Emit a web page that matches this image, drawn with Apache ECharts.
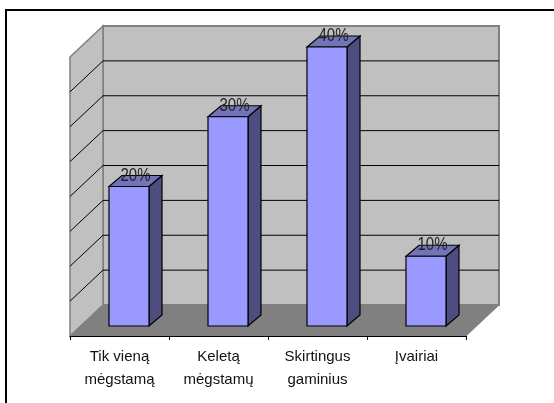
<!DOCTYPE html>
<html><head><meta charset="utf-8">
<style>html,body{margin:0;padding:0;background:#fff}#c{width:554px;height:403px}</style>
<script src="https://cdn.jsdelivr.net/npm/echarts@6/dist/echarts.min.js"></script>
</head><body><div id="c"></div>
<script>
const categories = ['Tik vieną\nmėgstamą', 'Keletą\nmėgstamų', 'Skirtingus\ngaminius', 'Įvairiai'];
const values = [20, 30, 40, 10];
const ticks = [0, 5, 10, 15, 20, 25, 30, 35, 40];
const axisMax = 40;

const wallDx = 33, wallDy = -31;      // depth of the floor
const barDx = 9.5, barDy = -10;       // bar offset from front plane
const depthDx = 13, depthDy = -11;    // depth of a bar
const barW = 40;

function poly(points, fill, stroke, lw) {
  return { type: 'polygon', shape: { points }, silent: true,
    style: { fill, stroke: stroke || 'none', lineWidth: lw === undefined ? 1 : lw } };
}
const wallSeries = {
  type: 'custom', coordinateSystem: 'cartesian2d', data: [0], silent: true, z: 1,
  renderItem(params, api) {
    const p0 = api.coord([0, 0]).slice();
    const w = api.size([1, 0])[0] * categories.length;
    const pT = api.coord([0, axisMax]);
    const x0 = params.coordSys.x, y0 = p0[1], yT = pT[1], x1 = x0 + w;
    const children = [
      poly([[x0 + wallDx, yT + wallDy], [x1 + wallDx, yT + wallDy], [x1 + wallDx, y0 + wallDy], [x0 + wallDx, y0 + wallDy]], '#c0c0c0', '#808080', 2),
      poly([[x0, yT], [x0 + wallDx, yT + wallDy], [x0 + wallDx, y0 + wallDy], [x0, y0]], '#c0c0c0', '#808080', 1.5),
      poly([[x0, y0], [x0 + wallDx, y0 + wallDy], [x1 + wallDx, y0 + wallDy], [x1, y0]], '#808080', '#808080', 1)
    ];
    ticks.forEach(t => {
      if (t === 0 || t === axisMax) return;
      const y = api.coord([0, t])[1];
      children.push({ type: 'polyline', silent: true,
        shape: { points: [[x0, y], [x0 + wallDx, y + wallDy], [x1 + wallDx, y + wallDy]] },
        style: { fill: 'none', stroke: '#000', lineWidth: 1 } });
    });
    return { type: 'group', children };
  }
};
const barSeries = {
  type: 'custom', coordinateSystem: 'cartesian2d', z: 3,
  data: values.map((v, i) => [i, v]),
  encode: { x: 0, y: 1 },
  renderItem(params, api) {
    const top = api.coord([api.value(0), api.value(1)]);
    const base = api.coord([api.value(0), 0]);
    const l = top[0] - barW / 2 + barDx, r = l + barW;
    const t = top[1] + barDy, b = base[1] + barDy;
    const dx = depthDx, dy = depthDy;
    return { type: 'group', children: [
      poly([[r, t], [r + dx, t + dy], [r + dx, b + dy], [r, b]], '#4d4d80', '#000', 1.2),
      poly([[l, t], [l + dx, t + dy], [r + dx, t + dy], [r, t]], '#7373b8', '#000', 1.2),
      poly([[l, t], [r, t], [r, b], [l, b]], '#9999ff', '#000', 1.2),
      { type: 'text', silent: true, z2: 10,
        x: (l + r) / 2 + dx / 2, y: t + dy, scaleY: 1.25,
        style: { text: api.value(1) + '%', align: 'center', verticalAlign: 'middle',
          fill: '#222', font: '15px "Liberation Sans", Arial, sans-serif' } }
    ]};
  }
};
const chart = echarts.init(document.getElementById('c'), null, { renderer: 'canvas' });
chart.setOption({
  animation: false,
  backgroundColor: '#fff',
  graphic: [{ type: 'polyline', silent: true, z: -1, shape: { points: [[6, 403], [6, 10], [554, 10]] },
    style: { fill: 'none', stroke: '#000', lineWidth: 2 } }],
  grid: { left: 70, right: 88, top: 57, bottom: 67, containLabel: false },
  xAxis: { type: 'category', data: categories, boundaryGap: true,
    axisLine: { show: true, lineStyle: { color: '#000', width: 1 } },
    axisTick: { show: true, length: 4, alignWithLabel: false, lineStyle: { color: '#000' } },
    axisLabel: { color: '#111', fontFamily: '"Liberation Sans", Arial, sans-serif', fontSize: 15, lineHeight: 23, margin: 9, interval: 0 },
    splitLine: { show: false }, z: 5 },
  yAxis: { type: 'value', min: 0, max: axisMax, interval: 5,
    axisLine: { show: false }, axisTick: { show: false }, axisLabel: { show: false }, splitLine: { show: false } },
  series: [wallSeries, barSeries]
});
</script></body></html>
